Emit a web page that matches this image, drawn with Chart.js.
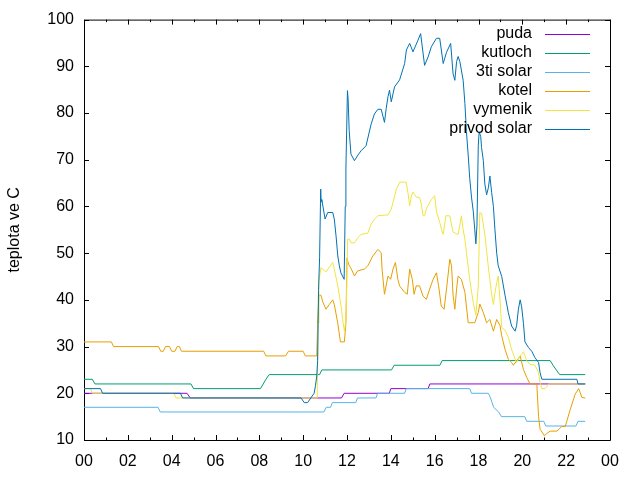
<!DOCTYPE html>
<html>
<head>
<meta charset="utf-8">
<script src="https://cdn.jsdelivr.net/npm/chart.js@4/dist/chart.umd.min.js"></script>
<style>
  html, body { margin: 0; padding: 0; background: #fff; }
  canvas { display: block; }
</style>
</head>
<body>
<canvas id="c" width="640" height="480"></canvas>
<script>
// hodnoty: [hodina, teplota]
const puda = [[0,20],[4.7,20],[4.85,19],[11.75,19],[11.87,20],[13.93,20],[14.0,21],[15.7,21],[15.78,22],[22.87,22]];

const kutloch = [[0,23],[0.38,23],[0.5,22],[4.88,22],[5.0,21],[8.05,21],[8.18,22],[8.3,23],[8.45,24],[10.75,24],[10.85,25],
  [14.03,25],[14.15,26],[16.24,26],[16.34,27],[21.27,27],[21.4,26],[21.55,25],[21.7,24],[22.87,24]];

const solar3 = [[0,17],[3.38,17],[3.48,16],[10.95,16],[11.05,17],[11.25,17],[11.33,18],[12.4,18],[12.48,19],[13.32,19],[13.4,20],
  [14.63,20],[14.7,21],[17.6,21],[17.68,20],[18.45,20],[18.55,19],[18.62,18],[18.69,17],[18.92,16],[19.05,15],[20.11,15],
  [20.2,14],[20.98,14],[21.07,13],[22.45,13],[22.54,14],[22.87,14]];

const kotel = [[0,31],[1.25,31],[1.35,30],[3.4,30],[3.5,29],[3.62,29],[3.72,30],[3.9,30],[4.0,29],[4.15,29],[4.25,30],[4.35,30],
  [4.45,29],[8.2,29],[8.3,28],[9.2,28],[9.33,29],[10.0,29],[10.1,28],[10.62,28],[10.66,35],[10.72,41],[10.81,41],[10.9,39.5],
  [11.04,38],[11.19,39],[11.35,40],[11.42,39],[11.5,37],[11.58,35],[11.7,31],[11.88,31],[11.95,35],[12.0,49],[12.05,48],
  [12.11,47.3],[12.2,46.6],[12.34,45.1],[12.49,46.2],[12.8,46.6],[12.95,47.3],[13.18,49.4],[13.41,50.8],[13.56,50.1],
  [13.6,46.6],[13.71,41.2],[13.87,45.1],[13.99,44.4],[14.1,46.6],[14.21,48],[14.32,44.4],[14.4,43],[14.63,41.6],[14.75,41.2],
  [14.86,46.6],[14.98,44.4],[15.06,41.2],[15.16,43],[15.31,43],[15.47,40.8],[15.62,40.1],[15.77,42.3],[15.93,44.4],[16.08,45.8],
  [16.18,43],[16.3,38.7],[16.43,38],[16.54,42.3],[16.69,48.7],[16.77,47.3],[16.84,41],[16.92,38],[17.0,42.3],[17.07,45.1],
  [17.22,44.4],[17.38,41.6],[17.53,35.1],[17.83,35.1],[17.99,37.3],[18.06,39.1],[18.22,37.3],[18.37,35.1],[18.52,35.8],
  [18.68,33.3],[18.83,35.8],[18.98,34.5],[19.06,32.3],[19.21,29.4],[19.36,27.3],[19.51,26.6],[19.59,26],[19.74,26.9],[19.9,28],
  [20.05,25.1],[20.2,23.4],[20.35,22],[20.66,22],[20.74,15],[20.81,12.3],[21.01,10.9],[21.12,11.4],[21.27,11.9],[21.58,11.9],
  [21.8,12.9],[21.96,12.9],[22.19,16.6],[22.41,19.8],[22.57,21],[22.72,19.1],[22.87,19]];

const vymenik = [[0,21],[0.3,21],[0.38,20],[4.1,20],[4.2,19],[10.64,19],[10.68,35],[10.72,44],[10.81,46.9],[11.04,46],[11.19,47],
  [11.35,48],[11.42,46.6],[11.58,43],[11.73,38.7],[11.8,35.8],[11.88,33.3],[11.96,36],[12.03,53],[12.11,53],[12.18,52.2],
  [12.34,52.2],[12.49,53.3],[12.64,54],[12.95,54.3],[13.1,56.2],[13.26,57.3],[13.41,58],[13.87,58.2],[14.02,59.4],[14.25,63.7],
  [14.4,65.2],[14.7,65.2],[14.78,63],[14.86,60.1],[14.94,62.3],[15.01,63.1],[15.16,62],[15.31,61.9],[15.39,60.5],[15.47,58],
  [15.54,58],[15.62,59.5],[15.85,61.5],[16.0,62.3],[16.08,59],[16.23,56.6],[16.31,55.1],[16.39,54],[16.51,58],[16.69,58],
  [16.84,54.5],[17.07,54],[17.15,56],[17.22,58],[17.3,55],[17.38,53],[17.45,50.1],[17.6,44.4],[17.76,39.4],[17.88,36.7],
  [17.99,43],[18.06,58.7],[18.14,58.5],[18.29,54],[18.45,47],[18.6,41.2],[18.68,39],[18.75,41.5],[18.83,43.7],[18.9,45.1],
  [18.98,40],[19.06,34.1],[19.21,33.5],[19.36,32],[19.51,29.4],[19.67,27.3],[19.74,26.6],[19.9,28],[20.05,28.9],[20.2,27],
  [20.35,26.2],[20.58,26],[20.74,24.4],[20.81,22.3],[20.89,21],[21.04,21],[21.2,22],[22.87,22]];

const privod = [[0,21],[0.75,21],[0.85,20],[4.4,20],[4.5,19],[9.9,19],[10.05,18],[10.2,18],[10.35,19],[10.5,20],[10.56,21.6],
  [10.62,23.7],[10.66,27],[10.7,42],[10.75,49],[10.8,63.7],[10.82,61],[10.85,61.5],[11.0,57.3],[11.12,58.7],[11.35,58.7],
  [11.42,57.3],[11.5,53.7],[11.58,49.4],[11.65,47.3],[11.72,45.8],[11.87,44.4],[11.92,60],[11.95,68],[12.02,84.8],[12.05,83],
  [12.1,76.2],[12.18,71.2],[12.34,69.8],[12.5,71],[12.64,71.9],[12.87,73],[13.1,77.6],[13.25,79.8],[13.41,80.8],[13.56,80.8],
  [13.71,78],[13.79,81],[13.87,83.5],[13.94,84.9],[14.02,82.4],[14.17,85.6],[14.4,87.1],[14.63,90.6],[14.71,93.5],[14.86,94.9],
  [15.01,93.1],[15.24,95.6],[15.36,97],[15.54,90.2],[15.7,92],[15.85,94.2],[16.08,96],[16.23,96],[16.39,90.6],[16.54,93],
  [16.73,94.9],[16.84,88.4],[16.92,87],[17.0,91],[17.07,92.1],[17.15,91],[17.3,87],[17.38,82],[17.45,76],[17.53,71],[17.6,66],
  [17.68,62],[17.76,59],[17.83,55],[17.88,52],[17.93,56],[17.99,73],[18.03,76],[18.1,75],[18.14,72.6],[18.22,69.8],[18.29,64.8],
  [18.37,62.5],[18.45,64],[18.52,66.5],[18.6,63],[18.68,60],[18.75,55],[18.83,50],[18.9,47.3],[19.06,45],[19.21,41],[19.36,37.3],
  [19.51,34.4],[19.67,33.3],[19.74,34.5],[19.82,38],[19.9,40],[19.97,38.5],[20.05,35],[20.12,31],[20.28,29.8],[20.43,29],
  [20.58,27.6],[20.74,26.6],[20.81,24.4],[20.89,23],[22.49,23],[22.54,22],[22.87,22]];

const names = ['puda', 'kutloch', '3ti solar', 'kotel', 'vymenik', 'privod solar'];
const colors = ['#9400d3', '#009e73', '#56b4e9', '#e69f00', '#f0e442', '#0072b2'];
const series = [puda, kutloch, solar3, kotel, vymenik, privod];

const FONT = 'Liberation Sans, Arial, sans-serif';

// ramecek + tiky dovnitr (jako gnuplot)
const framePlugin = {
    id: 'frame',
    beforeDatasetsDraw(chart) {
        const {ctx, chartArea: a, scales: {x, y}} = chart;
        ctx.save();
        ctx.strokeStyle = '#000';
        ctx.lineWidth = 1;
        ctx.beginPath();
        ctx.rect(a.left + 0.5, a.top + 0.5, a.right - a.left, a.bottom - a.top);
        for (let v = 10; v <= 100; v += 10) {
            const py = Math.round(y.getPixelForValue(v)) + 0.5;
            ctx.moveTo(a.left, py); ctx.lineTo(a.left + 5, py);
            ctx.moveTo(a.right, py); ctx.lineTo(a.right - 5, py);
        }
        for (let h = 0; h <= 24; h++) {
            const px = Math.round(x.getPixelForValue(h)) + 0.5;
            const len = (h % 2 === 0) ? 5 : 2.5;
            ctx.moveTo(px, a.bottom); ctx.lineTo(px, a.bottom - len);
            ctx.moveTo(px, a.top); ctx.lineTo(px, a.top + len);
        }
        ctx.stroke();
        ctx.restore();
    }
};

// legenda: text vpravo zarovnany, za nim ukazka cary
const keyPlugin = {
    id: 'key',
    afterDatasetsDraw(chart) {
        const ctx = chart.ctx;
        ctx.save();
        ctx.font = '16px ' + FONT;
        ctx.textAlign = 'right';
        ctx.textBaseline = 'middle';
        names.forEach((n, i) => {
            const yy = 33.5 + i * 19;
            ctx.fillStyle = '#000';
            ctx.fillText(n, 532, yy);
            ctx.strokeStyle = colors[i];
            ctx.lineWidth = 1;
            ctx.beginPath();
            ctx.moveTo(545, Math.round(yy) + 0.5);
            ctx.lineTo(590, Math.round(yy) + 0.5);
            ctx.stroke();
        });
        ctx.restore();
    }
};

const datasets = series.map((s, i) => ({
    label: names[i],
    data: s.map(p => ({x: p[0], y: p[1]})),
    borderColor: colors[i],
    backgroundColor: colors[i],
    borderWidth: 1,
    pointRadius: 0,
    tension: 0,
    fill: false,
    order: series.length - i   // privod solar kreslit nahoru
}));

new Chart(document.getElementById('c'), {
    type: 'line',
    data: { datasets: datasets },
    options: {
        responsive: false,
        animation: false,
        events: [],
        layout: { padding: { top: 19, right: 30, left: 0, bottom: 0 } },
        scales: {
            x: {
                type: 'linear',
                min: 0,
                max: 24,
                grid: { display: false, drawTicks: false },
                border: { display: false },
                ticks: {
                    stepSize: 2,
                    autoSkip: false,
                    maxRotation: 0,
                    padding: 12,
                    color: '#000',
                    font: { family: FONT, size: 16 },
                    callback: v => String(v % 24).padStart(2, '0')
                },
                afterFit(s) { s.height = 40; }
            },
            y: {
                min: 10,
                max: 100,
                grid: { display: false, drawTicks: false },
                border: { display: false },
                ticks: {
                    stepSize: 10,
                    padding: 10,
                    color: '#000',
                    font: { family: FONT, size: 16 }
                },
                title: {
                    display: true,
                    text: 'teplota ve C',
                    color: '#000',
                    font: { family: FONT, size: 16 },
                    padding: { top: 5, bottom: 0 }
                },
                afterFit(s) { s.width = 84; }
            }
        },
        plugins: {
            legend: { display: false },
            tooltip: { enabled: false }
        }
    },
    plugins: [framePlugin, keyPlugin]
});
</script>
</body>
</html>
